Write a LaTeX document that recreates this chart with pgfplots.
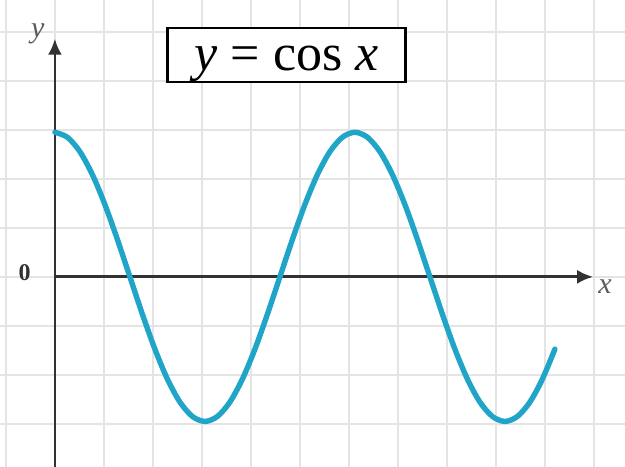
\documentclass[border=0pt]{standalone}
\usepackage{fontspec}
\setmainfont{Liberation Serif}
\usepackage{pgfplots}
\pgfplotsset{compat=1.18}
\usetikzlibrary{arrows.meta}
\definecolor{curve}{RGB}{32,165,200}
\definecolor{gridc}{RGB}{228,228,228}
\definecolor{axisc}{RGB}{50,50,50}
\begin{document}
\begin{tikzpicture}
\begin{axis}[
  scale only axis,
  width=312.5pt, height=233.5pt,
  xmin=-1.12, xmax=11.63,
  ymin=-3.88, ymax=5.65,
  axis line style={draw=none},
  xtick={-1,0,...,11}, ytick={-3,-2,...,5},
  xticklabels={}, yticklabels={},
  major tick length=0pt,
  grid=major,
  major grid style={gridc, line width=0.9pt},
  clip=false,
]
% axes
\draw[axisc, line width=1.4pt, -{Latex[length=8pt,width=7pt]}] (axis cs:-0.02,0) -- (axis cs:10.98,0);
\draw[axisc, line width=1.4pt, -{Latex[length=8pt,width=7pt]}] (axis cs:0,-3.88) -- (axis cs:0,4.86);
% the cosine curve
\addplot[curve, line width=2.7pt, smooth, line cap=round] coordinates {
(0,2.95) (0.255,2.849) (0.51,2.555) (0.765,2.086) (1.02,1.475) (1.275,0.763)
(1.53,0) (1.785,-0.763) (2.04,-1.475) (2.295,-2.086) (2.55,-2.555) (2.805,-2.849)
(3.06,-2.95) (3.315,-2.849) (3.57,-2.555) (3.825,-2.086) (4.08,-1.475) (4.335,-0.763)
(4.59,0) (4.845,0.763) (5.1,1.475) (5.355,2.086) (5.61,2.555) (5.865,2.849)
(6.12,2.95) (6.375,2.849) (6.63,2.555) (6.885,2.086) (7.14,1.475) (7.395,0.763)
(7.65,0) (7.905,-0.763) (8.16,-1.475) (8.415,-2.086) (8.67,-2.555) (8.925,-2.849)
(9.18,-2.95) (9.435,-2.849) (9.69,-2.555) (9.945,-2.086) (10.2,-1.475)
};
% labels
\node[text=axisc!80, font=\fontsize{15}{17}\selectfont\itshape] at (axis cs:-0.35,4.95) {y};
\node[text=axisc!80, font=\fontsize{15}{17}\selectfont\itshape] at (axis cs:11.22,-0.2) {x};
\node[text=axisc, font=\fontsize{12}{14}\selectfont\bfseries] at (axis cs:-0.62,0.08) {0};
% title box
\node[draw=black, line width=1.3pt, fill=white, minimum width=119pt, minimum height=27pt,
      inner sep=0pt] at (axis cs:4.73,4.53) {};
\node[inner sep=0pt, yshift=-4.5pt, font=\fontsize{26}{28}\selectfont] at (axis cs:4.73,4.53)
      {{\itshape y} = cos {\itshape x}};
\end{axis}
% the page is exactly the plotting area
\pgfresetboundingbox
\path[use as bounding box] (current axis.south west) rectangle (current axis.north east);
\end{tikzpicture}
\end{document}
